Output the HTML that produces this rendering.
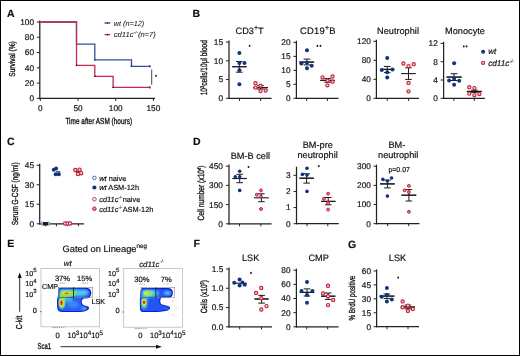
<!DOCTYPE html>
<html><head><meta charset="utf-8"><style>
html,body{margin:0;padding:0;background:#fff;}
svg{display:block;font-family:"Liberation Sans", sans-serif;}
text{text-rendering:geometricPrecision;stroke:#111;stroke-width:0.18px;}
svg{filter:blur(0.3px);}
text.ax{stroke-width:0.32px;}
text.lt{stroke-width:0.05px;}
</style></head><body>
<svg width="520" height="356" viewBox="0 0 520 356">
<rect width="520" height="356" fill="#fff"/>
<text x="7" y="16.6" font-size="10.5" text-anchor="start" font-weight="bold" font-style="normal" fill="#111" >A</text>
<line x1="39.8" y1="20.4" x2="39.8" y2="99.0" stroke="#222" stroke-width="1.25"/>
<line x1="36.8" y1="22.0" x2="39.8" y2="22.0" stroke="#222" stroke-width="1"/>
<text x="34.1" y="24.9" font-size="8.3" text-anchor="end" font-weight="normal" font-style="normal" fill="#111" >100</text>
<line x1="36.8" y1="37.28" x2="39.8" y2="37.28" stroke="#222" stroke-width="1"/>
<text x="34.1" y="40.18" font-size="8.3" text-anchor="end" font-weight="normal" font-style="normal" fill="#111" >80</text>
<line x1="36.8" y1="52.56" x2="39.8" y2="52.56" stroke="#222" stroke-width="1"/>
<text x="34.1" y="55.46" font-size="8.3" text-anchor="end" font-weight="normal" font-style="normal" fill="#111" >60</text>
<line x1="36.8" y1="67.84" x2="39.8" y2="67.84" stroke="#222" stroke-width="1"/>
<text x="34.1" y="70.74000000000001" font-size="8.3" text-anchor="end" font-weight="normal" font-style="normal" fill="#111" >40</text>
<line x1="36.8" y1="83.12" x2="39.8" y2="83.12" stroke="#222" stroke-width="1"/>
<text x="34.1" y="86.02000000000001" font-size="8.3" text-anchor="end" font-weight="normal" font-style="normal" fill="#111" >20</text>
<line x1="36.8" y1="98.4" x2="39.8" y2="98.4" stroke="#222" stroke-width="1"/>
<text x="34.1" y="101.30000000000001" font-size="8.3" text-anchor="end" font-weight="normal" font-style="normal" fill="#111" >0</text>
<line x1="39.199999999999996" y1="98.4" x2="155" y2="98.4" stroke="#222" stroke-width="1.25"/>
<line x1="40.3" y1="98.4" x2="40.3" y2="100.9" stroke="#222" stroke-width="1"/>
<line x1="78" y1="98.4" x2="78" y2="100.9" stroke="#222" stroke-width="1"/>
<line x1="115.7" y1="98.4" x2="115.7" y2="100.9" stroke="#222" stroke-width="1"/>
<line x1="153.4" y1="98.4" x2="153.4" y2="100.9" stroke="#222" stroke-width="1"/>
<text x="40.3" y="111.4" font-size="8.3" text-anchor="middle" font-weight="normal" font-style="normal" fill="#111" >0</text>
<text x="78" y="111.4" font-size="8.3" text-anchor="middle" font-weight="normal" font-style="normal" fill="#111" >50</text>
<text x="115.7" y="111.4" font-size="8.3" text-anchor="middle" font-weight="normal" font-style="normal" fill="#111" >100</text>
<text x="153.4" y="111.4" font-size="8.3" text-anchor="middle" font-weight="normal" font-style="normal" fill="#111" >150</text>
<text class="ax" x="65.4" y="124" font-size="8.7" fill="#111" textLength="66.7" lengthAdjust="spacingAndGlyphs">Time after ASM (hours)</text>
<text class="ax" transform="translate(14.5,59) rotate(-90)" x="0" y="0" font-size="8.6" text-anchor="middle" fill="#111" textLength="35.5" lengthAdjust="spacingAndGlyphs" >Survival (%)</text>
<path d="M40.3,22 H76.5 V44.1 H94.8 V59.8 H131.5 V66.3 H150" fill="none" stroke="#2f5296" stroke-width="1.3"/>
<path d="M40.3,22 H76.5 V65.4 H94.8 V76.3 H113.1 V87.4 H150" fill="none" stroke="#c42a4c" stroke-width="1.3"/>
<rect x="75.8" y="64.7" width="1.4" height="1.4" fill="#222"/>
<rect x="94.1" y="59.099999999999994" width="1.4" height="1.4" fill="#222"/>
<rect x="94.1" y="75.6" width="1.4" height="1.4" fill="#222"/>
<rect x="112.39999999999999" y="86.7" width="1.4" height="1.4" fill="#222"/>
<rect x="130.8" y="65.6" width="1.4" height="1.4" fill="#222"/>
<line x1="150" y1="65" x2="150" y2="67.6" stroke="#222" stroke-width="1"/>
<line x1="150" y1="86.1" x2="150" y2="88.7" stroke="#222" stroke-width="1"/>
<line x1="151.7" y1="69.5" x2="151.7" y2="84.8" stroke="#333" stroke-width="0.9"/>
<ellipse cx="156" cy="75.8" rx="0.9" ry="1.1" fill="#1a1a1a"/>
<line x1="104.5" y1="23" x2="110.3" y2="23" stroke="#10347c" stroke-width="1.2"/>
<line x1="107.4" y1="22" x2="107.4" y2="24" stroke="#222" stroke-width="0.7"/>
<line x1="104.5" y1="34.6" x2="110.3" y2="34.6" stroke="#c4223e" stroke-width="1.2"/>
<line x1="107.4" y1="33.6" x2="107.4" y2="35.6" stroke="#222" stroke-width="0.7"/>
<text class="lt" x="113.8" y="25.6" font-size="7.4" font-style="italic" fill="#222" textLength="30.4" lengthAdjust="spacingAndGlyphs">wt (n=12)</text>
<text class="lt" x="113.8" y="37.2" font-size="7.4" font-style="italic" fill="#222" textLength="42" lengthAdjust="spacingAndGlyphs">cd11c<tspan style="stroke-width:0.06px" font-size="4.6" dy="-3">-/-</tspan><tspan dy="3">(n=7)</tspan></text>
<text x="192.5" y="16.5" font-size="10.5" text-anchor="start" font-weight="bold" font-style="normal" fill="#111" >B</text>
<text x="249.6" y="33.7" font-size="9.2" text-anchor="middle" font-weight="normal" font-style="normal" fill="#111" >CD3<tspan font-size="7" dy="-3.5">+</tspan><tspan dy="3.5">T</tspan></text>
<text x="317.7" y="33.7" font-size="9.4" text-anchor="middle" font-weight="normal" font-style="normal" fill="#111" textLength="35.6" lengthAdjust="spacing">CD19<tspan font-size="7" dy="-3.5">+</tspan><tspan dy="3.5">B</tspan></text>
<text x="398" y="33.7" font-size="9.2" text-anchor="middle" font-weight="normal" font-style="normal" fill="#111" >Neutrophil</text>
<text x="465" y="33.7" font-size="9.2" text-anchor="middle" font-weight="normal" font-style="normal" fill="#111" >Monocyte</text>
<text class="ax" transform="translate(207.2,67.7) rotate(-90)" x="0" y="0" font-size="9.2" text-anchor="middle" fill="#111" textLength="55.3" lengthAdjust="spacingAndGlyphs" >10<tspan font-size="5.5" dy="-3">3</tspan><tspan dy="3">cells/10μl blood</tspan></text>
<line x1="229" y1="40.5" x2="229" y2="98.89999999999999" stroke="#222" stroke-width="1.25"/>
<line x1="226" y1="42.1" x2="229" y2="42.1" stroke="#222" stroke-width="1"/>
<text x="223.1" y="45.0" font-size="8.3" text-anchor="end" font-weight="normal" font-style="normal" fill="#111" >15</text>
<line x1="226" y1="60.83" x2="229" y2="60.83" stroke="#222" stroke-width="1"/>
<text x="223.1" y="63.73" font-size="8.3" text-anchor="end" font-weight="normal" font-style="normal" fill="#111" >10</text>
<line x1="226" y1="79.57" x2="229" y2="79.57" stroke="#222" stroke-width="1"/>
<text x="223.1" y="82.47" font-size="8.3" text-anchor="end" font-weight="normal" font-style="normal" fill="#111" >5</text>
<line x1="226" y1="98.3" x2="229" y2="98.3" stroke="#222" stroke-width="1"/>
<text x="223.1" y="101.2" font-size="8.3" text-anchor="end" font-weight="normal" font-style="normal" fill="#111" >0</text>
<line x1="228.4" y1="98.4" x2="271.6" y2="98.4" stroke="#222" stroke-width="1.25"/>
<line x1="239.5" y1="98.4" x2="239.5" y2="100.9" stroke="#222" stroke-width="1"/>
<line x1="260.6" y1="98.4" x2="260.6" y2="100.9" stroke="#222" stroke-width="1"/>
<line x1="239.3" y1="61.5" x2="239.3" y2="72.2" stroke="#1a1a1a" stroke-width="1"/>
<line x1="236.0" y1="61.5" x2="242.60000000000002" y2="61.5" stroke="#1a1a1a" stroke-width="1"/>
<line x1="236.0" y1="72.2" x2="242.60000000000002" y2="72.2" stroke="#1a1a1a" stroke-width="1"/>
<line x1="232.10000000000002" y1="66.7" x2="246.5" y2="66.7" stroke="#1a1a1a" stroke-width="1.1"/>
<line x1="232.3" y1="66.7" x2="246.6" y2="66.7" stroke="#1a1a1a" stroke-width="1.1"/>
<circle cx="239.4" cy="53.1" r="2.0" fill="#10347c"/>
<circle cx="239.4" cy="63" r="2.0" fill="#10347c"/>
<circle cx="244.5" cy="63" r="2.0" fill="#10347c"/>
<circle cx="239.4" cy="70.3" r="2.0" fill="#10347c"/>
<circle cx="239.4" cy="84.2" r="2.0" fill="#10347c"/>
<line x1="260.5" y1="85.6" x2="260.5" y2="89" stroke="#1a1a1a" stroke-width="1"/>
<line x1="257.2" y1="85.6" x2="263.8" y2="85.6" stroke="#1a1a1a" stroke-width="1"/>
<line x1="257.2" y1="89" x2="263.8" y2="89" stroke="#1a1a1a" stroke-width="1"/>
<line x1="253.1" y1="87.6" x2="267.9" y2="87.6" stroke="#1a1a1a" stroke-width="1.1"/>
<line x1="253" y1="87.6" x2="267.8" y2="87.6" stroke="#1a1a1a" stroke-width="1.1"/>
<circle cx="255.5" cy="83.2" r="1.6" fill="#f3d8c2" stroke="#c4223e" stroke-width="1.15"/>
<circle cx="255.5" cy="87.6" r="1.6" fill="#f3d8c2" stroke="#c4223e" stroke-width="1.15"/>
<circle cx="260.5" cy="85.7" r="1.6" fill="#f3d8c2" stroke="#c4223e" stroke-width="1.15"/>
<circle cx="260.5" cy="91.1" r="1.6" fill="#f3d8c2" stroke="#c4223e" stroke-width="1.15"/>
<circle cx="265.7" cy="90.5" r="1.6" fill="#f3d8c2" stroke="#c4223e" stroke-width="1.15"/>
<ellipse cx="249.6" cy="45.8" rx="0.9" ry="1.1" fill="#1a1a1a"/>
<line x1="296.4" y1="40.8" x2="296.4" y2="98.89999999999999" stroke="#222" stroke-width="1.25"/>
<line x1="293.4" y1="42.4" x2="296.4" y2="42.4" stroke="#222" stroke-width="1"/>
<text x="290.6" y="45.3" font-size="8.3" text-anchor="end" font-weight="normal" font-style="normal" fill="#111" >20</text>
<line x1="293.4" y1="56.38" x2="296.4" y2="56.38" stroke="#222" stroke-width="1"/>
<text x="290.6" y="59.28" font-size="8.3" text-anchor="end" font-weight="normal" font-style="normal" fill="#111" >15</text>
<line x1="293.4" y1="70.35" x2="296.4" y2="70.35" stroke="#222" stroke-width="1"/>
<text x="290.6" y="73.25" font-size="8.3" text-anchor="end" font-weight="normal" font-style="normal" fill="#111" >10</text>
<line x1="293.4" y1="84.32" x2="296.4" y2="84.32" stroke="#222" stroke-width="1"/>
<text x="290.6" y="87.22" font-size="8.3" text-anchor="end" font-weight="normal" font-style="normal" fill="#111" >5</text>
<line x1="293.4" y1="98.3" x2="296.4" y2="98.3" stroke="#222" stroke-width="1"/>
<text x="290.6" y="101.2" font-size="8.3" text-anchor="end" font-weight="normal" font-style="normal" fill="#111" >0</text>
<line x1="295.79999999999995" y1="98.4" x2="338.5" y2="98.4" stroke="#222" stroke-width="1.25"/>
<line x1="306.7" y1="98.4" x2="306.7" y2="100.9" stroke="#222" stroke-width="1"/>
<line x1="327.4" y1="98.4" x2="327.4" y2="100.9" stroke="#222" stroke-width="1"/>
<line x1="306.9" y1="59.1" x2="306.9" y2="64.9" stroke="#1a1a1a" stroke-width="1"/>
<line x1="303.59999999999997" y1="59.1" x2="310.2" y2="59.1" stroke="#1a1a1a" stroke-width="1"/>
<line x1="303.59999999999997" y1="64.9" x2="310.2" y2="64.9" stroke="#1a1a1a" stroke-width="1"/>
<line x1="299.5" y1="62.1" x2="314.29999999999995" y2="62.1" stroke="#1a1a1a" stroke-width="1.1"/>
<line x1="299.2" y1="62.1" x2="314" y2="62.1" stroke="#1a1a1a" stroke-width="1.1"/>
<circle cx="307" cy="50.2" r="2.0" fill="#10347c"/>
<circle cx="301.4" cy="63.6" r="2.0" fill="#10347c"/>
<circle cx="307" cy="62.7" r="2.0" fill="#10347c"/>
<circle cx="311.7" cy="65.7" r="2.0" fill="#10347c"/>
<circle cx="307" cy="68.3" r="2.0" fill="#10347c"/>
<line x1="327.6" y1="78.6" x2="327.6" y2="82.2" stroke="#1a1a1a" stroke-width="1"/>
<line x1="324.3" y1="78.6" x2="330.90000000000003" y2="78.6" stroke="#1a1a1a" stroke-width="1"/>
<line x1="324.3" y1="82.2" x2="330.90000000000003" y2="82.2" stroke="#1a1a1a" stroke-width="1"/>
<line x1="320.40000000000003" y1="80.4" x2="334.8" y2="80.4" stroke="#1a1a1a" stroke-width="1.1"/>
<line x1="320.3" y1="80.4" x2="334.7" y2="80.4" stroke="#1a1a1a" stroke-width="1.1"/>
<circle cx="322.5" cy="77.3" r="1.6" fill="#f3d8c2" stroke="#c4223e" stroke-width="1.15"/>
<circle cx="332.5" cy="76.5" r="1.6" fill="#f3d8c2" stroke="#c4223e" stroke-width="1.15"/>
<circle cx="327.6" cy="80.4" r="1.6" fill="#f3d8c2" stroke="#c4223e" stroke-width="1.15"/>
<circle cx="332.5" cy="81.7" r="1.6" fill="#f3d8c2" stroke="#c4223e" stroke-width="1.15"/>
<circle cx="327.4" cy="85.3" r="1.6" fill="#f3d8c2" stroke="#c4223e" stroke-width="1.15"/>
<ellipse cx="317.4" cy="45.9" rx="0.9" ry="1.1" fill="#1a1a1a"/>
<ellipse cx="320.5" cy="45.9" rx="0.9" ry="1.1" fill="#1a1a1a"/>
<line x1="376.4" y1="39.7" x2="376.4" y2="98.89999999999999" stroke="#222" stroke-width="1.25"/>
<line x1="373.4" y1="41.3" x2="376.4" y2="41.3" stroke="#222" stroke-width="1"/>
<text x="370.9" y="44.199999999999996" font-size="8.3" text-anchor="end" font-weight="normal" font-style="normal" fill="#111" >120</text>
<line x1="373.4" y1="60.3" x2="376.4" y2="60.3" stroke="#222" stroke-width="1"/>
<text x="370.9" y="63.199999999999996" font-size="8.3" text-anchor="end" font-weight="normal" font-style="normal" fill="#111" >80</text>
<line x1="373.4" y1="79.3" x2="376.4" y2="79.3" stroke="#222" stroke-width="1"/>
<text x="370.9" y="82.2" font-size="8.3" text-anchor="end" font-weight="normal" font-style="normal" fill="#111" >40</text>
<line x1="373.4" y1="98.3" x2="376.4" y2="98.3" stroke="#222" stroke-width="1"/>
<text x="370.9" y="101.2" font-size="8.3" text-anchor="end" font-weight="normal" font-style="normal" fill="#111" >0</text>
<line x1="375.79999999999995" y1="98.4" x2="419" y2="98.4" stroke="#222" stroke-width="1.25"/>
<line x1="387.2" y1="98.4" x2="387.2" y2="100.9" stroke="#222" stroke-width="1"/>
<line x1="408.6" y1="98.4" x2="408.6" y2="100.9" stroke="#222" stroke-width="1"/>
<line x1="387.2" y1="66.4" x2="387.2" y2="72.6" stroke="#1a1a1a" stroke-width="1"/>
<line x1="383.9" y1="66.4" x2="390.5" y2="66.4" stroke="#1a1a1a" stroke-width="1"/>
<line x1="383.9" y1="72.6" x2="390.5" y2="72.6" stroke="#1a1a1a" stroke-width="1"/>
<line x1="380.09999999999997" y1="69.4" x2="394.3" y2="69.4" stroke="#1a1a1a" stroke-width="1.1"/>
<line x1="380" y1="69.4" x2="394" y2="69.4" stroke="#1a1a1a" stroke-width="1.1"/>
<circle cx="387.2" cy="58.1" r="2.0" fill="#10347c"/>
<circle cx="381.8" cy="70" r="2.0" fill="#10347c"/>
<circle cx="392.5" cy="69.6" r="2.0" fill="#10347c"/>
<circle cx="387.2" cy="72.2" r="2.0" fill="#10347c"/>
<circle cx="387.2" cy="77.5" r="2.0" fill="#10347c"/>
<line x1="408.5" y1="67.8" x2="408.5" y2="79.4" stroke="#1a1a1a" stroke-width="1"/>
<line x1="405.2" y1="67.8" x2="411.8" y2="67.8" stroke="#1a1a1a" stroke-width="1"/>
<line x1="405.2" y1="79.4" x2="411.8" y2="79.4" stroke="#1a1a1a" stroke-width="1"/>
<line x1="401.2" y1="73.6" x2="415.8" y2="73.6" stroke="#1a1a1a" stroke-width="1.1"/>
<circle cx="403.4" cy="63.5" r="1.6" fill="#f3d8c2" stroke="#c4223e" stroke-width="1.15"/>
<circle cx="408.5" cy="66.1" r="1.6" fill="#f3d8c2" stroke="#c4223e" stroke-width="1.15"/>
<circle cx="413.7" cy="64.2" r="1.6" fill="#f3d8c2" stroke="#c4223e" stroke-width="1.15"/>
<circle cx="408.5" cy="82.9" r="1.6" fill="#f3d8c2" stroke="#c4223e" stroke-width="1.15"/>
<circle cx="408.5" cy="91.3" r="1.6" fill="#f3d8c2" stroke="#c4223e" stroke-width="1.15"/>
<line x1="443.6" y1="41.8" x2="443.6" y2="98.89999999999999" stroke="#222" stroke-width="1.25"/>
<line x1="440.6" y1="43.4" x2="443.6" y2="43.4" stroke="#222" stroke-width="1"/>
<text x="437.8" y="46.3" font-size="8.3" text-anchor="end" font-weight="normal" font-style="normal" fill="#111" >12</text>
<line x1="440.6" y1="61.7" x2="443.6" y2="61.7" stroke="#222" stroke-width="1"/>
<text x="437.8" y="64.60000000000001" font-size="8.3" text-anchor="end" font-weight="normal" font-style="normal" fill="#111" >8</text>
<line x1="440.6" y1="80.0" x2="443.6" y2="80.0" stroke="#222" stroke-width="1"/>
<text x="437.8" y="82.9" font-size="8.3" text-anchor="end" font-weight="normal" font-style="normal" fill="#111" >4</text>
<line x1="440.6" y1="98.3" x2="443.6" y2="98.3" stroke="#222" stroke-width="1"/>
<text x="437.8" y="101.2" font-size="8.3" text-anchor="end" font-weight="normal" font-style="normal" fill="#111" >0</text>
<line x1="443.0" y1="98.4" x2="484.9" y2="98.4" stroke="#222" stroke-width="1.25"/>
<line x1="453.9" y1="98.4" x2="453.9" y2="100.9" stroke="#222" stroke-width="1"/>
<line x1="474.3" y1="98.4" x2="474.3" y2="100.9" stroke="#222" stroke-width="1"/>
<line x1="454.1" y1="73.7" x2="454.1" y2="80.5" stroke="#1a1a1a" stroke-width="1"/>
<line x1="450.8" y1="73.7" x2="457.40000000000003" y2="73.7" stroke="#1a1a1a" stroke-width="1"/>
<line x1="450.8" y1="80.5" x2="457.40000000000003" y2="80.5" stroke="#1a1a1a" stroke-width="1"/>
<line x1="446.5" y1="77.1" x2="461.70000000000005" y2="77.1" stroke="#1a1a1a" stroke-width="1.1"/>
<line x1="446.5" y1="77.1" x2="461.7" y2="77.1" stroke="#1a1a1a" stroke-width="1.1"/>
<circle cx="454.1" cy="63.3" r="2.0" fill="#10347c"/>
<circle cx="449.1" cy="80.5" r="2.0" fill="#10347c"/>
<circle cx="454.1" cy="78.8" r="2.0" fill="#10347c"/>
<circle cx="459.2" cy="80.8" r="2.0" fill="#10347c"/>
<circle cx="454.1" cy="84.7" r="2.0" fill="#10347c"/>
<line x1="474.4" y1="90.2" x2="474.4" y2="92.6" stroke="#1a1a1a" stroke-width="1"/>
<line x1="471.09999999999997" y1="90.2" x2="477.7" y2="90.2" stroke="#1a1a1a" stroke-width="1"/>
<line x1="471.09999999999997" y1="92.6" x2="477.7" y2="92.6" stroke="#1a1a1a" stroke-width="1"/>
<line x1="466.9" y1="91.4" x2="481.9" y2="91.4" stroke="#1a1a1a" stroke-width="1.1"/>
<line x1="466.8" y1="91.4" x2="481.9" y2="91.4" stroke="#1a1a1a" stroke-width="1.1"/>
<circle cx="469.3" cy="87.2" r="1.6" fill="#f3d8c2" stroke="#c4223e" stroke-width="1.15"/>
<circle cx="474.4" cy="88.1" r="1.6" fill="#f3d8c2" stroke="#c4223e" stroke-width="1.15"/>
<circle cx="469.3" cy="93.6" r="1.6" fill="#f3d8c2" stroke="#c4223e" stroke-width="1.15"/>
<circle cx="474.4" cy="95.3" r="1.6" fill="#f3d8c2" stroke="#c4223e" stroke-width="1.15"/>
<circle cx="479.4" cy="94" r="1.6" fill="#f3d8c2" stroke="#c4223e" stroke-width="1.15"/>
<ellipse cx="463.8" cy="46.4" rx="0.9" ry="1.1" fill="#1a1a1a"/>
<ellipse cx="466.6" cy="46.4" rx="0.9" ry="1.1" fill="#1a1a1a"/>
<circle cx="483.1" cy="51.8" r="2.0" fill="#10347c"/>
<circle cx="483.1" cy="62.8" r="1.6" fill="#f3d8c2" stroke="#c4223e" stroke-width="1.15"/>
<text x="488.2" y="54.3" font-size="8.2" text-anchor="start" font-weight="normal" font-style="italic" fill="#111" >wt</text>
<text x="488.2" y="66" font-size="8.2" font-style="italic" fill="#111">cd11c<tspan style="stroke-width:0.06px" font-size="5" dy="-3.2">-/-</tspan></text>
<text x="7" y="145.2" font-size="10.5" text-anchor="start" font-weight="bold" font-style="normal" fill="#111" >C</text>
<line x1="39.7" y1="163.7" x2="39.7" y2="224.4" stroke="#222" stroke-width="1.25"/>
<line x1="36.7" y1="165.3" x2="39.7" y2="165.3" stroke="#222" stroke-width="1"/>
<text x="34.1" y="168.20000000000002" font-size="8.3" text-anchor="end" font-weight="normal" font-style="normal" fill="#111" >45</text>
<line x1="36.7" y1="184.8" x2="39.7" y2="184.8" stroke="#222" stroke-width="1"/>
<text x="34.1" y="187.70000000000002" font-size="8.3" text-anchor="end" font-weight="normal" font-style="normal" fill="#111" >30</text>
<line x1="36.7" y1="204.3" x2="39.7" y2="204.3" stroke="#222" stroke-width="1"/>
<text x="34.1" y="207.20000000000002" font-size="8.3" text-anchor="end" font-weight="normal" font-style="normal" fill="#111" >15</text>
<line x1="36.7" y1="223.8" x2="39.7" y2="223.8" stroke="#222" stroke-width="1"/>
<text x="34.1" y="226.70000000000002" font-size="8.3" text-anchor="end" font-weight="normal" font-style="normal" fill="#111" >0</text>
<line x1="39.1" y1="223.8" x2="84" y2="223.8" stroke="#222" stroke-width="1.25"/>
<line x1="45.3" y1="223.8" x2="45.3" y2="226.3" stroke="#222" stroke-width="1"/>
<line x1="56.4" y1="223.8" x2="56.4" y2="226.3" stroke="#222" stroke-width="1"/>
<line x1="67.5" y1="223.8" x2="67.5" y2="226.3" stroke="#222" stroke-width="1"/>
<line x1="78.4" y1="223.8" x2="78.4" y2="226.3" stroke="#222" stroke-width="1"/>
<text class="ax" transform="translate(18.3,193.8) rotate(-90)" x="0" y="0" font-size="8.8" text-anchor="middle" fill="#111" textLength="63" lengthAdjust="spacingAndGlyphs" >Serum G-CSF (ng/ml)</text>
<circle cx="42.6" cy="223.6" r="1.6" fill="#c8d4ec" stroke="#5a7ac0" stroke-width="0.9"/>
<circle cx="48.4" cy="223.6" r="1.6" fill="#c8d4ec" stroke="#5a7ac0" stroke-width="0.9"/>
<rect x="42.9" y="222.1" width="5.3" height="3.3" rx="1.2" fill="#141c30"/>
<circle cx="53.8" cy="169.7" r="2.0" fill="#10347c"/>
<circle cx="56.1" cy="168.5" r="2.0" fill="#10347c"/>
<circle cx="55.7" cy="174.3" r="2.0" fill="#10347c"/>
<circle cx="58.8" cy="174.3" r="2.0" fill="#10347c"/>
<line x1="56.1" y1="171.8" x2="60.3" y2="171.8" stroke="#222" stroke-width="1.1"/>
<circle cx="65.1" cy="223.5" r="1.6" fill="#fff" stroke="#c4223e" stroke-width="1.15"/>
<circle cx="67.6" cy="223.5" r="1.6" fill="#fff" stroke="#c4223e" stroke-width="1.15"/>
<circle cx="70.1" cy="223.5" r="1.6" fill="#fff" stroke="#c4223e" stroke-width="1.15"/>
<circle cx="75.3" cy="170.1" r="1.7" fill="#f2d0b8" stroke="#c4223e" stroke-width="1.15"/>
<circle cx="79.5" cy="169.7" r="1.7" fill="#f2d0b8" stroke="#c4223e" stroke-width="1.15"/>
<circle cx="78" cy="173.9" r="1.7" fill="#f2d0b8" stroke="#c4223e" stroke-width="1.15"/>
<circle cx="81.2" cy="173.2" r="1.7" fill="#f2d0b8" stroke="#c4223e" stroke-width="1.15"/>
<line x1="76" y1="171.8" x2="78.8" y2="171.8" stroke="#222" stroke-width="1.1"/>
<circle cx="94.4" cy="177.9" r="1.8" fill="#fff" stroke="#3a5a9a" stroke-width="0.9"/>
<circle cx="94.4" cy="187.5" r="2.1" fill="#10347c"/>
<circle cx="94.4" cy="199.2" r="1.8" fill="#fff" stroke="#c4223e" stroke-width="0.9"/>
<circle cx="94.4" cy="208.8" r="1.8" fill="#e08090" stroke="#c4223e" stroke-width="1"/>
<text x="99.2" y="180.6" font-size="7.4" fill="#111"><tspan font-style="italic">wt</tspan> naive</text>
<text x="99.2" y="190.2" font-size="7.4" fill="#111"><tspan font-style="italic">wt</tspan> ASM-12h</text>
<text x="99.2" y="201.9" font-size="7.4" fill="#111"><tspan font-style="italic">cd11c</tspan><tspan style="stroke-width:0.06px" font-size="4.5" dy="-3">-/-</tspan><tspan dy="3">naive</tspan></text>
<text x="99.2" y="211.5" font-size="7.4" fill="#111"><tspan font-style="italic">cd11c</tspan><tspan style="stroke-width:0.06px" font-size="4.5" dy="-3">-/-</tspan><tspan dy="3">ASM-12h</tspan></text>
<text x="193" y="145.2" font-size="10.5" text-anchor="start" font-weight="bold" font-style="normal" fill="#111" >D</text>
<text class="ax" transform="translate(203.8,193) rotate(-90)" x="0" y="0" font-size="9.0" text-anchor="middle" fill="#111" textLength="55" lengthAdjust="spacingAndGlyphs" >Cell number (x10<tspan font-size="5.5" dy="-3">4</tspan><tspan dy="3">)</tspan></text>
<text x="250.4" y="159.2" font-size="9.2" text-anchor="middle" font-weight="normal" font-style="normal" fill="#111" >BM-B cell</text>
<line x1="229" y1="164.6" x2="229" y2="224.4" stroke="#222" stroke-width="1.25"/>
<line x1="226" y1="166.2" x2="229" y2="166.2" stroke="#222" stroke-width="1"/>
<text x="222.9" y="169.1" font-size="8.3" text-anchor="end" font-weight="normal" font-style="normal" fill="#111" >450</text>
<line x1="226" y1="185.4" x2="229" y2="185.4" stroke="#222" stroke-width="1"/>
<text x="222.9" y="188.3" font-size="8.3" text-anchor="end" font-weight="normal" font-style="normal" fill="#111" >300</text>
<line x1="226" y1="204.6" x2="229" y2="204.6" stroke="#222" stroke-width="1"/>
<text x="222.9" y="207.5" font-size="8.3" text-anchor="end" font-weight="normal" font-style="normal" fill="#111" >150</text>
<line x1="226" y1="223.8" x2="229" y2="223.8" stroke="#222" stroke-width="1"/>
<text x="222.9" y="226.70000000000002" font-size="8.3" text-anchor="end" font-weight="normal" font-style="normal" fill="#111" >0</text>
<line x1="228.4" y1="223.8" x2="271.6" y2="223.8" stroke="#222" stroke-width="1.25"/>
<line x1="239.5" y1="223.8" x2="239.5" y2="226.3" stroke="#222" stroke-width="1"/>
<line x1="260.9" y1="223.8" x2="260.9" y2="226.3" stroke="#222" stroke-width="1"/>
<line x1="239.7" y1="174.3" x2="239.7" y2="182.7" stroke="#1a1a1a" stroke-width="1"/>
<line x1="236.39999999999998" y1="174.3" x2="243.0" y2="174.3" stroke="#1a1a1a" stroke-width="1"/>
<line x1="236.39999999999998" y1="182.7" x2="243.0" y2="182.7" stroke="#1a1a1a" stroke-width="1"/>
<line x1="232.6" y1="178.5" x2="246.79999999999998" y2="178.5" stroke="#1a1a1a" stroke-width="1.1"/>
<line x1="232.5" y1="178.5" x2="246.7" y2="178.5" stroke="#1a1a1a" stroke-width="1.1"/>
<circle cx="239.7" cy="171.3" r="1.8" fill="#10347c"/>
<circle cx="235.3" cy="176.7" r="1.8" fill="#10347c"/>
<circle cx="239.7" cy="176.7" r="1.8" fill="#10347c"/>
<circle cx="239.7" cy="190.4" r="1.8" fill="#10347c"/>
<line x1="261.4" y1="193.8" x2="261.4" y2="201.7" stroke="#1a1a1a" stroke-width="1"/>
<line x1="258.09999999999997" y1="193.8" x2="264.7" y2="193.8" stroke="#1a1a1a" stroke-width="1"/>
<line x1="258.09999999999997" y1="201.7" x2="264.7" y2="201.7" stroke="#1a1a1a" stroke-width="1"/>
<line x1="253.99999999999997" y1="197.8" x2="268.79999999999995" y2="197.8" stroke="#1a1a1a" stroke-width="1.1"/>
<circle cx="261" cy="190.4" r="1.45" fill="#e27a90" stroke="#c4223e" stroke-width="1"/>
<circle cx="256.8" cy="194.7" r="1.45" fill="#e27a90" stroke="#c4223e" stroke-width="1"/>
<circle cx="261" cy="196.6" r="1.45" fill="#e27a90" stroke="#c4223e" stroke-width="1"/>
<circle cx="261" cy="209" r="1.45" fill="#e27a90" stroke="#c4223e" stroke-width="1"/>
<ellipse cx="248.5" cy="167.1" rx="0.9" ry="1.1" fill="#1a1a1a"/>
<text x="317.8" y="148.2" font-size="9.2" text-anchor="middle" font-weight="normal" font-style="normal" fill="#111" >BM-pre</text>
<text x="317.6" y="157.6" font-size="9.2" text-anchor="middle" font-weight="normal" font-style="normal" fill="#111" >neutrophil</text>
<line x1="296.5" y1="166.7" x2="296.5" y2="224.29999999999998" stroke="#222" stroke-width="1.25"/>
<line x1="293.5" y1="175.3" x2="296.5" y2="175.3" stroke="#222" stroke-width="1"/>
<text x="290.7" y="178.20000000000002" font-size="8.3" text-anchor="end" font-weight="normal" font-style="normal" fill="#111" >3</text>
<line x1="293.5" y1="191.43" x2="296.5" y2="191.43" stroke="#222" stroke-width="1"/>
<text x="290.7" y="194.33" font-size="8.3" text-anchor="end" font-weight="normal" font-style="normal" fill="#111" >2</text>
<line x1="293.5" y1="207.57" x2="296.5" y2="207.57" stroke="#222" stroke-width="1"/>
<text x="290.7" y="210.47" font-size="8.3" text-anchor="end" font-weight="normal" font-style="normal" fill="#111" >1</text>
<line x1="293.5" y1="223.7" x2="296.5" y2="223.7" stroke="#222" stroke-width="1"/>
<text x="290.7" y="226.6" font-size="8.3" text-anchor="end" font-weight="normal" font-style="normal" fill="#111" >0</text>
<line x1="295.9" y1="223.7" x2="338.8" y2="223.7" stroke="#222" stroke-width="1.25"/>
<line x1="307" y1="223.7" x2="307" y2="226.2" stroke="#222" stroke-width="1"/>
<line x1="327.8" y1="223.7" x2="327.8" y2="226.2" stroke="#222" stroke-width="1"/>
<line x1="306.6" y1="173.8" x2="306.6" y2="183.1" stroke="#1a1a1a" stroke-width="1"/>
<line x1="303.3" y1="173.8" x2="309.90000000000003" y2="173.8" stroke="#1a1a1a" stroke-width="1"/>
<line x1="303.3" y1="183.1" x2="309.90000000000003" y2="183.1" stroke="#1a1a1a" stroke-width="1"/>
<line x1="299.40000000000003" y1="178.2" x2="313.8" y2="178.2" stroke="#1a1a1a" stroke-width="1.1"/>
<line x1="299.4" y1="178.2" x2="313.9" y2="178.2" stroke="#1a1a1a" stroke-width="1.1"/>
<circle cx="307" cy="168.3" r="1.8" fill="#10347c"/>
<circle cx="302.4" cy="174.4" r="1.8" fill="#10347c"/>
<circle cx="307" cy="175" r="1.8" fill="#10347c"/>
<circle cx="307" cy="191.4" r="1.8" fill="#10347c"/>
<line x1="328.2" y1="197.5" x2="328.2" y2="204.8" stroke="#1a1a1a" stroke-width="1"/>
<line x1="324.9" y1="197.5" x2="331.5" y2="197.5" stroke="#1a1a1a" stroke-width="1"/>
<line x1="324.9" y1="204.8" x2="331.5" y2="204.8" stroke="#1a1a1a" stroke-width="1"/>
<line x1="321.0" y1="201.4" x2="335.4" y2="201.4" stroke="#1a1a1a" stroke-width="1.1"/>
<line x1="321" y1="201.4" x2="335.5" y2="201.4" stroke="#1a1a1a" stroke-width="1.1"/>
<circle cx="328.1" cy="193.7" r="1.45" fill="#e27a90" stroke="#c4223e" stroke-width="1"/>
<circle cx="323.9" cy="198.8" r="1.45" fill="#e27a90" stroke="#c4223e" stroke-width="1"/>
<circle cx="328.1" cy="203" r="1.45" fill="#e27a90" stroke="#c4223e" stroke-width="1"/>
<circle cx="328.1" cy="209.6" r="1.45" fill="#e27a90" stroke="#c4223e" stroke-width="1"/>
<ellipse cx="318.8" cy="166.1" rx="0.9" ry="1.1" fill="#1a1a1a"/>
<text x="396.8" y="148.2" font-size="9.2" text-anchor="middle" font-weight="normal" font-style="normal" fill="#111" >BM-</text>
<text x="398.2" y="157.6" font-size="9.2" text-anchor="middle" font-weight="normal" font-style="normal" fill="#111" >neutrophil</text>
<line x1="376.5" y1="164.6" x2="376.5" y2="224.29999999999998" stroke="#222" stroke-width="1.25"/>
<line x1="373.5" y1="166.2" x2="376.5" y2="166.2" stroke="#222" stroke-width="1"/>
<text x="370.9" y="169.1" font-size="8.3" text-anchor="end" font-weight="normal" font-style="normal" fill="#111" >300</text>
<line x1="373.5" y1="185.37" x2="376.5" y2="185.37" stroke="#222" stroke-width="1"/>
<text x="370.9" y="188.27" font-size="8.3" text-anchor="end" font-weight="normal" font-style="normal" fill="#111" >200</text>
<line x1="373.5" y1="204.53" x2="376.5" y2="204.53" stroke="#222" stroke-width="1"/>
<text x="370.9" y="207.43" font-size="8.3" text-anchor="end" font-weight="normal" font-style="normal" fill="#111" >100</text>
<line x1="373.5" y1="223.7" x2="376.5" y2="223.7" stroke="#222" stroke-width="1"/>
<text x="370.9" y="226.6" font-size="8.3" text-anchor="end" font-weight="normal" font-style="normal" fill="#111" >0</text>
<line x1="375.9" y1="223.7" x2="419.5" y2="223.7" stroke="#222" stroke-width="1.25"/>
<line x1="387.6" y1="223.7" x2="387.6" y2="226.2" stroke="#222" stroke-width="1"/>
<line x1="408.7" y1="223.7" x2="408.7" y2="226.2" stroke="#222" stroke-width="1"/>
<text x="399.2" y="171.5" font-size="7" text-anchor="middle" font-weight="normal" font-style="normal" fill="#111" >p=0.07</text>
<line x1="387.4" y1="180.1" x2="387.4" y2="187.9" stroke="#1a1a1a" stroke-width="1"/>
<line x1="384.09999999999997" y1="180.1" x2="390.7" y2="180.1" stroke="#1a1a1a" stroke-width="1"/>
<line x1="384.09999999999997" y1="187.9" x2="390.7" y2="187.9" stroke="#1a1a1a" stroke-width="1"/>
<line x1="380.09999999999997" y1="183.9" x2="394.7" y2="183.9" stroke="#1a1a1a" stroke-width="1.1"/>
<line x1="380" y1="183.9" x2="394.7" y2="183.9" stroke="#1a1a1a" stroke-width="1.1"/>
<circle cx="382.9" cy="179.4" r="1.8" fill="#10347c"/>
<circle cx="391.6" cy="178" r="1.8" fill="#10347c"/>
<circle cx="387.4" cy="181" r="1.8" fill="#10347c"/>
<circle cx="387.4" cy="196.1" r="1.8" fill="#10347c"/>
<line x1="408.9" y1="189.6" x2="408.9" y2="201" stroke="#1a1a1a" stroke-width="1"/>
<line x1="405.59999999999997" y1="189.6" x2="412.2" y2="189.6" stroke="#1a1a1a" stroke-width="1"/>
<line x1="405.59999999999997" y1="201" x2="412.2" y2="201" stroke="#1a1a1a" stroke-width="1"/>
<line x1="401.54999999999995" y1="195.2" x2="416.25" y2="195.2" stroke="#1a1a1a" stroke-width="1.1"/>
<line x1="401.5" y1="195.2" x2="416.2" y2="195.2" stroke="#1a1a1a" stroke-width="1.1"/>
<circle cx="408.9" cy="185.9" r="1.45" fill="#e27a90" stroke="#c4223e" stroke-width="1"/>
<circle cx="404.6" cy="190.3" r="1.45" fill="#e27a90" stroke="#c4223e" stroke-width="1"/>
<circle cx="408.9" cy="192.1" r="1.45" fill="#e27a90" stroke="#c4223e" stroke-width="1"/>
<circle cx="408.9" cy="211.8" r="1.45" fill="#e27a90" stroke="#c4223e" stroke-width="1"/>
<text x="193.5" y="247" font-size="10.5" text-anchor="start" font-weight="bold" font-style="normal" fill="#111" >F</text>
<text x="250.7" y="260.9" font-size="9.2" text-anchor="middle" font-weight="normal" font-style="normal" fill="#111" >LSK</text>
<text class="ax" transform="translate(206.5,296.7) rotate(-90)" x="0" y="0" font-size="9.0" text-anchor="middle" fill="#111" textLength="33.3" lengthAdjust="spacingAndGlyphs" >Cells (x10<tspan font-size="5.5" dy="-3">5</tspan><tspan dy="3">)</tspan></text>
<line x1="229" y1="267.4" x2="229" y2="327.40000000000003" stroke="#222" stroke-width="1.25"/>
<line x1="226" y1="269.0" x2="229" y2="269.0" stroke="#222" stroke-width="1"/>
<text x="223.3" y="271.9" font-size="8.3" text-anchor="end" font-weight="normal" font-style="normal" fill="#111" >1.5</text>
<line x1="226" y1="288.27" x2="229" y2="288.27" stroke="#222" stroke-width="1"/>
<text x="223.3" y="291.16999999999996" font-size="8.3" text-anchor="end" font-weight="normal" font-style="normal" fill="#111" >1.0</text>
<line x1="226" y1="307.53" x2="229" y2="307.53" stroke="#222" stroke-width="1"/>
<text x="223.3" y="310.42999999999995" font-size="8.3" text-anchor="end" font-weight="normal" font-style="normal" fill="#111" >0.5</text>
<line x1="226" y1="326.8" x2="229" y2="326.8" stroke="#222" stroke-width="1"/>
<text x="223.3" y="329.7" font-size="8.3" text-anchor="end" font-weight="normal" font-style="normal" fill="#111" >0.0</text>
<line x1="228.4" y1="326.9" x2="272" y2="326.9" stroke="#222" stroke-width="1.25"/>
<line x1="239.7" y1="326.9" x2="239.7" y2="329.4" stroke="#222" stroke-width="1"/>
<line x1="261.5" y1="326.9" x2="261.5" y2="329.4" stroke="#222" stroke-width="1"/>
<line x1="235.1" y1="283.2" x2="246.7" y2="283.2" stroke="#1a1a1a" stroke-width="1.1"/>
<circle cx="239.6" cy="279.4" r="2.0" fill="#10347c"/>
<circle cx="234.2" cy="282.8" r="2.0" fill="#10347c"/>
<circle cx="242.5" cy="282.5" r="2.0" fill="#10347c"/>
<circle cx="239.6" cy="285.4" r="2.0" fill="#10347c"/>
<circle cx="244.8" cy="284.8" r="2.0" fill="#10347c"/>
<line x1="261.6" y1="295.4" x2="261.6" y2="303.1" stroke="#1a1a1a" stroke-width="1"/>
<line x1="258.3" y1="295.4" x2="264.90000000000003" y2="295.4" stroke="#1a1a1a" stroke-width="1"/>
<line x1="258.3" y1="303.1" x2="264.90000000000003" y2="303.1" stroke="#1a1a1a" stroke-width="1"/>
<line x1="254.50000000000003" y1="299" x2="268.70000000000005" y2="299" stroke="#1a1a1a" stroke-width="1.1"/>
<line x1="254.5" y1="299" x2="268.6" y2="299" stroke="#1a1a1a" stroke-width="1.1"/>
<circle cx="261.3" cy="288" r="1.6" fill="#f3d8c2" stroke="#c4223e" stroke-width="1.15"/>
<circle cx="256.1" cy="292.9" r="1.6" fill="#f3d8c2" stroke="#c4223e" stroke-width="1.15"/>
<circle cx="261.3" cy="298.3" r="1.6" fill="#f3d8c2" stroke="#c4223e" stroke-width="1.15"/>
<circle cx="266.5" cy="306.1" r="1.6" fill="#f3d8c2" stroke="#c4223e" stroke-width="1.15"/>
<circle cx="261.3" cy="309.5" r="1.6" fill="#f3d8c2" stroke="#c4223e" stroke-width="1.15"/>
<ellipse cx="251" cy="272.9" rx="0.9" ry="1.1" fill="#1a1a1a"/>
<text x="318.7" y="261.1" font-size="9.2" text-anchor="middle" font-weight="normal" font-style="normal" fill="#111" >CMP</text>
<line x1="296.4" y1="268.6" x2="296.4" y2="327.40000000000003" stroke="#222" stroke-width="1.25"/>
<line x1="293.4" y1="270.2" x2="296.4" y2="270.2" stroke="#222" stroke-width="1"/>
<text x="290.6" y="273.09999999999997" font-size="8.3" text-anchor="end" font-weight="normal" font-style="normal" fill="#111" >80</text>
<line x1="293.4" y1="284.35" x2="296.4" y2="284.35" stroke="#222" stroke-width="1"/>
<text x="290.6" y="287.25" font-size="8.3" text-anchor="end" font-weight="normal" font-style="normal" fill="#111" >60</text>
<line x1="293.4" y1="298.5" x2="296.4" y2="298.5" stroke="#222" stroke-width="1"/>
<text x="290.6" y="301.4" font-size="8.3" text-anchor="end" font-weight="normal" font-style="normal" fill="#111" >40</text>
<line x1="293.4" y1="312.65" x2="296.4" y2="312.65" stroke="#222" stroke-width="1"/>
<text x="290.6" y="315.54999999999995" font-size="8.3" text-anchor="end" font-weight="normal" font-style="normal" fill="#111" >20</text>
<line x1="293.4" y1="326.8" x2="296.4" y2="326.8" stroke="#222" stroke-width="1"/>
<text x="290.6" y="329.7" font-size="8.3" text-anchor="end" font-weight="normal" font-style="normal" fill="#111" >0</text>
<line x1="295.79999999999995" y1="326.8" x2="338.5" y2="326.8" stroke="#222" stroke-width="1.25"/>
<line x1="306.7" y1="326.8" x2="306.7" y2="329.3" stroke="#222" stroke-width="1"/>
<line x1="327.7" y1="326.8" x2="327.7" y2="329.3" stroke="#222" stroke-width="1"/>
<line x1="307" y1="288.9" x2="307" y2="296" stroke="#1a1a1a" stroke-width="1"/>
<line x1="303.7" y1="288.9" x2="310.3" y2="288.9" stroke="#1a1a1a" stroke-width="1"/>
<line x1="303.7" y1="296" x2="310.3" y2="296" stroke="#1a1a1a" stroke-width="1"/>
<line x1="299.8" y1="292.4" x2="314.2" y2="292.4" stroke="#1a1a1a" stroke-width="1.1"/>
<line x1="299.8" y1="292.4" x2="314.1" y2="292.4" stroke="#1a1a1a" stroke-width="1.1"/>
<circle cx="307" cy="281.9" r="2.0" fill="#10347c"/>
<circle cx="301.5" cy="291.1" r="2.0" fill="#10347c"/>
<circle cx="312.4" cy="291.1" r="2.0" fill="#10347c"/>
<circle cx="307" cy="295.1" r="2.0" fill="#10347c"/>
<circle cx="307" cy="302.7" r="2.0" fill="#10347c"/>
<line x1="328.2" y1="293" x2="328.2" y2="299.4" stroke="#1a1a1a" stroke-width="1"/>
<line x1="324.9" y1="293" x2="331.5" y2="293" stroke="#1a1a1a" stroke-width="1"/>
<line x1="324.9" y1="299.4" x2="331.5" y2="299.4" stroke="#1a1a1a" stroke-width="1"/>
<line x1="321.0" y1="296.2" x2="335.4" y2="296.2" stroke="#1a1a1a" stroke-width="1.1"/>
<line x1="321" y1="296.2" x2="335.3" y2="296.2" stroke="#1a1a1a" stroke-width="1.1"/>
<circle cx="328" cy="285.7" r="1.6" fill="#f3d8c2" stroke="#c4223e" stroke-width="1.15"/>
<circle cx="323" cy="293.4" r="1.6" fill="#f3d8c2" stroke="#c4223e" stroke-width="1.15"/>
<circle cx="328" cy="296.2" r="1.6" fill="#f3d8c2" stroke="#c4223e" stroke-width="1.15"/>
<circle cx="333.2" cy="300" r="1.6" fill="#f3d8c2" stroke="#c4223e" stroke-width="1.15"/>
<circle cx="328" cy="305.1" r="1.6" fill="#f3d8c2" stroke="#c4223e" stroke-width="1.15"/>
<text x="348" y="247.6" font-size="10.5" text-anchor="start" font-weight="bold" font-style="normal" fill="#111" >G</text>
<text x="397.5" y="260.9" font-size="9.2" text-anchor="middle" font-weight="normal" font-style="normal" fill="#111" >LSK</text>
<text class="ax" transform="translate(355.2,298.1) rotate(-90)" x="0" y="0" font-size="8.8" text-anchor="middle" fill="#111" textLength="44.8" lengthAdjust="spacingAndGlyphs" >% BrdU positive</text>
<line x1="376.6" y1="269.4" x2="376.6" y2="327.3" stroke="#222" stroke-width="1.25"/>
<line x1="373.6" y1="271.0" x2="376.6" y2="271.0" stroke="#222" stroke-width="1"/>
<text x="371.0" y="273.9" font-size="8.3" text-anchor="end" font-weight="normal" font-style="normal" fill="#111" >60</text>
<line x1="373.6" y1="284.93" x2="376.6" y2="284.93" stroke="#222" stroke-width="1"/>
<text x="371.0" y="287.83" font-size="8.3" text-anchor="end" font-weight="normal" font-style="normal" fill="#111" >45</text>
<line x1="373.6" y1="298.85" x2="376.6" y2="298.85" stroke="#222" stroke-width="1"/>
<text x="371.0" y="301.75" font-size="8.3" text-anchor="end" font-weight="normal" font-style="normal" fill="#111" >30</text>
<line x1="373.6" y1="312.77" x2="376.6" y2="312.77" stroke="#222" stroke-width="1"/>
<text x="371.0" y="315.66999999999996" font-size="8.3" text-anchor="end" font-weight="normal" font-style="normal" fill="#111" >15</text>
<line x1="373.6" y1="326.7" x2="376.6" y2="326.7" stroke="#222" stroke-width="1"/>
<text x="371.0" y="329.59999999999997" font-size="8.3" text-anchor="end" font-weight="normal" font-style="normal" fill="#111" >0</text>
<line x1="376.0" y1="326.7" x2="419" y2="326.7" stroke="#222" stroke-width="1.25"/>
<line x1="386.9" y1="326.7" x2="386.9" y2="329.2" stroke="#222" stroke-width="1"/>
<line x1="408" y1="326.7" x2="408" y2="329.2" stroke="#222" stroke-width="1"/>
<line x1="386.9" y1="294" x2="386.9" y2="298.6" stroke="#1a1a1a" stroke-width="1"/>
<line x1="383.59999999999997" y1="294" x2="390.2" y2="294" stroke="#1a1a1a" stroke-width="1"/>
<line x1="383.59999999999997" y1="298.6" x2="390.2" y2="298.6" stroke="#1a1a1a" stroke-width="1"/>
<line x1="379.5" y1="296.1" x2="394.29999999999995" y2="296.1" stroke="#1a1a1a" stroke-width="1.1"/>
<line x1="379.7" y1="296.1" x2="394.5" y2="296.1" stroke="#1a1a1a" stroke-width="1.1"/>
<circle cx="386.9" cy="288.1" r="2.0" fill="#10347c"/>
<circle cx="381.6" cy="296.7" r="2.0" fill="#10347c"/>
<circle cx="386.9" cy="294.9" r="2.0" fill="#10347c"/>
<circle cx="391.8" cy="299.4" r="2.0" fill="#10347c"/>
<circle cx="386.9" cy="301.4" r="2.0" fill="#10347c"/>
<line x1="407.9" y1="305.1" x2="407.9" y2="308.8" stroke="#1a1a1a" stroke-width="1"/>
<line x1="404.59999999999997" y1="305.1" x2="411.2" y2="305.1" stroke="#1a1a1a" stroke-width="1"/>
<line x1="404.59999999999997" y1="308.8" x2="411.2" y2="308.8" stroke="#1a1a1a" stroke-width="1"/>
<line x1="400.79999999999995" y1="307" x2="415.0" y2="307" stroke="#1a1a1a" stroke-width="1.1"/>
<line x1="400.7" y1="307" x2="414.9" y2="307" stroke="#1a1a1a" stroke-width="1.1"/>
<circle cx="402.6" cy="301.4" r="1.6" fill="#f3d8c2" stroke="#c4223e" stroke-width="1.15"/>
<circle cx="402.6" cy="307.2" r="1.6" fill="#f3d8c2" stroke="#c4223e" stroke-width="1.15"/>
<circle cx="407.9" cy="305.6" r="1.6" fill="#f3d8c2" stroke="#c4223e" stroke-width="1.15"/>
<circle cx="412.8" cy="309.1" r="1.6" fill="#f3d8c2" stroke="#c4223e" stroke-width="1.15"/>
<circle cx="407.9" cy="310.9" r="1.6" fill="#f3d8c2" stroke="#c4223e" stroke-width="1.15"/>
<ellipse cx="398.2" cy="277.6" rx="0.9" ry="1.1" fill="#1a1a1a"/>
<text x="7.3" y="246.7" font-size="10.5" text-anchor="start" font-weight="bold" font-style="normal" fill="#111" >E</text>
<text x="62.6" y="251.5" font-size="9.3" fill="#111">Gated on Lineage<tspan font-size="6.4" dy="-3.6">neg</tspan></text>
<rect x="41" y="268.4" width="58.6" height="58.4" fill="none" stroke="#bbb" stroke-width="0.8"/>
<rect x="123.7" y="268.4" width="58.8" height="58.8" fill="none" stroke="#bbb" stroke-width="0.8"/>
<text x="67.7" y="266.2" font-size="7.8" text-anchor="middle" font-weight="normal" font-style="italic" fill="#111" >wt</text>
<text x="139.2" y="266.5" font-size="7.8" font-style="italic" fill="#111">cd11c<tspan style="stroke-width:0.06px" font-size="5.2" dy="-3.2">-/-</tspan></text>
<text x="25.3" y="275.7" font-size="7.2" fill="#111">10<tspan font-size="6" dy="-3.3">5</tspan></text>
<text x="25.3" y="285.8" font-size="7.2" fill="#111">10<tspan font-size="6" dy="-3.3">4</tspan></text>
<text x="25.3" y="296.6" font-size="7.2" fill="#111">10<tspan font-size="6" dy="-3.3">3</tspan></text>
<text x="32.7" y="313.4" font-size="7.4" text-anchor="start" font-weight="normal" font-style="normal" fill="#111" >0</text>
<text x="108" y="275.7" font-size="7.2" fill="#111">10<tspan font-size="6" dy="-3.3">5</tspan></text>
<text x="108" y="285.8" font-size="7.2" fill="#111">10<tspan font-size="6" dy="-3.3">4</tspan></text>
<text x="108" y="296.6" font-size="7.2" fill="#111">10<tspan font-size="6" dy="-3.3">3</tspan></text>
<text x="115.4" y="313.4" font-size="7.4" text-anchor="start" font-weight="normal" font-style="normal" fill="#111" >0</text>
<text x="57.5" y="338" font-size="7.6" text-anchor="middle" font-weight="normal" font-style="normal" fill="#111" >0</text>
<text x="67.5" y="338" font-size="7.8" fill="#111" textLength="35.5" lengthAdjust="spacingAndGlyphs">10<tspan font-size="6.5" dy="-3.5">3</tspan><tspan dy="3.5">10</tspan><tspan font-size="6.5" dy="-3.5">4</tspan><tspan dy="3.5">10</tspan><tspan font-size="6.5" dy="-3.5">5</tspan></text>
<text x="140.4" y="338" font-size="7.6" text-anchor="middle" font-weight="normal" font-style="normal" fill="#111" >0</text>
<text x="150" y="338" font-size="7.8" fill="#111" textLength="35.5" lengthAdjust="spacingAndGlyphs">10<tspan font-size="6.5" dy="-3.5">3</tspan><tspan dy="3.5">10</tspan><tspan font-size="6.5" dy="-3.5">4</tspan><tspan dy="3.5">10</tspan><tspan font-size="6.5" dy="-3.5">5</tspan></text>
<text x="62.5" y="280.6" font-size="7.6" text-anchor="middle" font-weight="normal" font-style="normal" fill="#111" >37%</text>
<text x="84.7" y="280.6" font-size="7.6" text-anchor="middle" font-weight="normal" font-style="normal" fill="#111" >15%</text>
<text x="141.9" y="281.8" font-size="7.6" text-anchor="middle" font-weight="normal" font-style="normal" fill="#111" >30%</text>
<text x="166.3" y="281.8" font-size="7.6" text-anchor="middle" font-weight="normal" font-style="normal" fill="#111" >7%</text>
<text x="42" y="288.9" font-size="7.2" text-anchor="start" font-weight="normal" font-style="normal" fill="#111" >CMP</text>
<text x="62.6" y="284.3" font-size="2.6" fill="#999" text-anchor="middle" style="stroke:none">3151</text>
<text x="84.8" y="284.3" font-size="2.6" fill="#999" text-anchor="middle" style="stroke:none">1548</text>
<text x="141.9" y="285.2" font-size="2.6" fill="#999" text-anchor="middle" style="stroke:none">36.01</text>
<text x="166.3" y="285.2" font-size="2.6" fill="#999" text-anchor="middle" style="stroke:none">7.02</text>
<text x="91.5" y="303.5" font-size="7.2" text-anchor="start" font-weight="normal" font-style="normal" fill="#111" >LSK</text>
<line x1="19.7" y1="276" x2="19.7" y2="311.8" stroke="#111" stroke-width="0.9"/>
<path d="M19.7,272.5 L17.7,278 L21.7,278 Z" fill="#111"/>
<line x1="60.6" y1="346.7" x2="158" y2="346.7" stroke="#111" stroke-width="0.9"/>
<path d="M161.8,346.7 L156,344.7 L156,348.7 Z" fill="#111"/>
<text class="ax" transform="translate(21.8,322.4) rotate(-90)" x="0" y="0" font-size="8.6" text-anchor="middle" fill="#111" textLength="13.6" lengthAdjust="spacingAndGlyphs" >C-kit</text>
<text class="ax" x="37.5" y="348.7" font-size="8.6" fill="#111" textLength="13.5" lengthAdjust="spacingAndGlyphs">Sca1</text>
<defs>
<filter id="b3" x="-30%" y="-30%" width="160%" height="160%"><feGaussianBlur stdDeviation="0.3"/></filter>
<filter id="b6" x="-30%" y="-30%" width="160%" height="160%"><feGaussianBlur stdDeviation="0.6"/></filter>
<filter id="b9" x="-30%" y="-30%" width="160%" height="160%"><feGaussianBlur stdDeviation="0.9"/></filter>
</defs>
<path d="M58.9,288.6 C59.6,287.9 60.6,287.7 62.5,287.7 L86.5,287.8 C89.8,288 91.4,290.3 91.3,292.9 C91.2,295.6 90,297.4 88,298.2 L84,298.5 C82.4,298.8 81.6,300.2 81.8,301.9 C82.1,303.6 82.8,305 84.5,305.6 L87.7,306.3 C89.2,306.8 89.4,308.6 88.4,309.5 C87,311 84,311.8 80,312 L62,312 C59.5,312 58,311 57.4,309 C56.8,306 56.8,301 57.3,298.5 C57.6,297 58,296 58.1,294.5 C58.2,291.5 58.3,289.5 58.9,288.6 Z" fill="#0c1fd6" filter="url(#b3)"/>
<path d="M59.8,289.4 C60.4,288.9 61.4,288.8 63,288.8 L86,288.9 C88.8,289.1 90.1,290.8 90,292.9 C89.9,295 89,296.4 87.5,297 L83.5,297.4 C81.5,297.8 80.5,299.8 80.7,302 C81,304.2 82,305.8 84,306.5 L86.8,307.2 C87.8,307.7 87.9,308.8 87.2,309.2 C86,310.2 83.5,310.8 80,311 L62.5,311 C60.2,311 59.2,310.3 58.7,308.6 C58.2,306 58.2,301.5 58.6,299 C58.9,297.3 59.2,296 59.2,294.5 C59.3,292 59.3,290.2 59.8,289.4 Z" fill="#2860f4" filter="url(#b6)"/>
<g filter="url(#b9)">
<path d="M60,290.5 C60.5,289.6 62,289.5 64,289.5 L84,289.7 C87.5,289.9 88.5,291.5 88.2,293 C87.8,294.5 86,295.5 83,295.8 L68,296.5 C66,297.3 65.5,299.5 65.3,303 C65,307 63,308.8 60.8,308.5 C59.2,307.8 59,304 59.2,300 C59.4,296 59.6,292.5 60,290.5 Z" fill="#4cc8f2"/>
<ellipse cx="68.5" cy="299.5" rx="4" ry="2.3" fill="#48b0f0"/>
<ellipse cx="73" cy="304.5" rx="6" ry="3.5" fill="#3a86f2"/>
<ellipse cx="83.8" cy="308.4" rx="2" ry="1.2" fill="#68c8f4"/>
</g>
<g filter="url(#b6)">
<path d="M60.6,291 C61,290.2 62.5,290.2 64,290.2 L73.5,290.4 C76,290.6 77,292 76.5,293.5 C76,295 74.5,296 72,296.2 L66.5,296.8 C65,297.5 64.8,300 64.6,303.5 C64.4,306.8 62.8,308 61,307.7 C59.9,307 59.7,303.5 59.9,300 C60.1,296.5 60.3,293 60.6,291 Z" fill="#86e060"/>
<ellipse cx="61.9" cy="303" rx="3.3" ry="5.2" fill="#86e060"/>
<ellipse cx="66.5" cy="293.1" rx="3.9" ry="1.4" fill="#f4ec34"/>
<ellipse cx="61.6" cy="302.8" rx="1.9" ry="3.4" fill="#f4ec34"/>
</g>
<g filter="url(#b3)">
<ellipse cx="66.7" cy="293.2" rx="2.6" ry="0.6" fill="#ec2a12"/>
<ellipse cx="61.5" cy="302.8" rx="1.15" ry="2.5" fill="#e81a10"/>
</g>
<path d="M141.3,288.7 C141.8,288.2 142.8,288.1 144.5,288.1 L168.5,288.1 C171.6,288.3 173,290.4 172.9,292.9 C172.8,295.3 171.8,297 169.8,297.6 L163,297.6 C161.2,297.9 160.3,299 160.3,300.5 C160.3,302.3 160.4,303.5 161.5,304.2 C163,305 167,305.4 169.2,306.5 C170.3,307.3 170.3,308.8 169.4,309.5 C168,310.8 164,311.6 158,312 L143,312 C141,312 140.2,311 140,309 C139.8,305 139.8,300 140.1,296 C140.3,293 140.5,290 141.3,288.7 Z" fill="#0c1fd6" filter="url(#b3)"/>
<path d="M142.2,289.5 C142.7,289.2 143.5,289.2 145,289.2 L168,289.2 C170.5,289.4 171.7,291 171.6,292.9 C171.5,294.8 170.8,296.1 169.3,296.5 L162.8,296.6 C160.4,297 159.2,298.6 159.2,300.5 C159.2,302.6 159.5,304.2 161,305.1 C162.8,306 166.5,306.3 168.3,307.2 C169,307.7 169,308.5 168.4,308.8 C167,309.9 163.5,310.6 158,310.9 L143.5,310.9 C141.8,310.9 141.2,310.2 141.1,308.8 C140.9,305 140.9,300 141.2,296 C141.4,293 141.6,290.5 142.2,289.5 Z" fill="#2457f2" filter="url(#b6)"/>
<g filter="url(#b9)">
<path d="M142.2,290.5 C142.7,289.9 144,289.8 146,289.8 L155,290 C157.5,290.3 158,294.5 156.5,296 C155,297 150,297.3 148,298 C146.8,299.3 147.2,303 147,306 C146.6,308.5 144.5,309 142.6,308.5 C141.5,307.5 141.4,303 141.6,299 C141.8,295.5 141.9,292.5 142.2,290.5 Z" fill="#4cc8f2"/>
<ellipse cx="167.4" cy="292.9" rx="3.5" ry="1.7" fill="#60d0f6"/>
<ellipse cx="157" cy="292.9" rx="2" ry="2.5" fill="#48b8f0"/>
</g>
<g filter="url(#b6)">
<ellipse cx="148" cy="293.2" rx="5" ry="3" fill="#92e070"/>
<ellipse cx="144.1" cy="302.6" rx="2.7" ry="4.2" fill="#8ce064"/>
<ellipse cx="146" cy="293.5" rx="2.2" ry="1.3" fill="#c8ec50"/>
<ellipse cx="144.1" cy="302.4" rx="1.8" ry="2.6" fill="#f4ec34"/>
</g>
<g filter="url(#b3)">
<ellipse cx="144.1" cy="302.3" rx="1.2" ry="1.6" fill="#e81a10"/>
</g>
<rect x="58.6" y="287.4" width="34.1" height="10.1" fill="none" stroke="#888" stroke-width="0.6"/>
<line x1="58.6" y1="297.5" x2="73.8" y2="297.5" stroke="#3a5a30" stroke-width="0.6"/>
<line x1="73.5" y1="287.4" x2="73.5" y2="297.8" stroke="#111" stroke-width="0.8"/>
<rect x="141.1" y="287.4" width="33.6" height="10.1" fill="none" stroke="#888" stroke-width="0.6"/>
<line x1="141.1" y1="297.5" x2="155.8" y2="297.5" stroke="#3a5a30" stroke-width="0.6"/>
<line x1="155.8" y1="287.4" x2="155.8" y2="297.8" stroke="#111" stroke-width="0.8"/>
<rect x="165.8" y="308.3" width="0.6" height="0.6" fill="#bbb"/>
<rect x="167.9" y="309.3" width="0.6" height="0.6" fill="#bbb"/>
<rect x="172.0" y="300.1" width="0.6" height="0.6" fill="#bbb"/>
<rect x="162.2" y="313.2" width="0.6" height="0.6" fill="#bbb"/>
<rect x="166.1" y="303.0" width="0.6" height="0.6" fill="#bbb"/>
<rect x="177.9" y="307.0" width="0.6" height="0.6" fill="#bbb"/>
<rect x="175.4" y="307.1" width="0.6" height="0.6" fill="#bbb"/>
<rect x="172.2" y="301.6" width="0.6" height="0.6" fill="#bbb"/>
<rect x="172.2" y="313.8" width="0.6" height="0.6" fill="#bbb"/>
<rect x="170.4" y="311.6" width="0.6" height="0.6" fill="#bbb"/>
<rect x="172.7" y="300.1" width="0.6" height="0.6" fill="#bbb"/>
<rect x="174.1" y="309.0" width="0.6" height="0.6" fill="#bbb"/>
<rect x="166.8" y="299.5" width="0.6" height="0.6" fill="#bbb"/>
<rect x="175.8" y="307.0" width="0.6" height="0.6" fill="#bbb"/>
<rect x="173.5" y="313.9" width="0.6" height="0.6" fill="#bbb"/>
<rect x="173.4" y="314.7" width="0.6" height="0.6" fill="#bbb"/>
<rect x="168.3" y="312.6" width="0.6" height="0.6" fill="#bbb"/>
<rect x="169.1" y="314.9" width="0.6" height="0.6" fill="#bbb"/>
<rect x="176.1" y="300.7" width="0.6" height="0.6" fill="#bbb"/>
<rect x="164.2" y="302.7" width="0.6" height="0.6" fill="#bbb"/>
<rect x="177.4" y="306.4" width="0.6" height="0.6" fill="#bbb"/>
<rect x="172.0" y="304.1" width="0.6" height="0.6" fill="#bbb"/>
<rect x="170.1" y="305.6" width="0.6" height="0.6" fill="#bbb"/>
<rect x="167.6" y="308.9" width="0.6" height="0.6" fill="#bbb"/>
<rect x="171.3" y="314.4" width="0.6" height="0.6" fill="#bbb"/>
<rect x="172.9" y="314.8" width="0.6" height="0.6" fill="#bbb"/>
<rect x="175.7" y="315.8" width="0.6" height="0.6" fill="#bbb"/>
<rect x="172.7" y="301.8" width="0.6" height="0.6" fill="#bbb"/>
<rect x="175.8" y="315.4" width="0.6" height="0.6" fill="#bbb"/>
<rect x="176.5" y="308.7" width="0.6" height="0.6" fill="#bbb"/>
<rect x="93.1" y="308.7" width="0.6" height="0.6" fill="#bbb"/>
<rect x="94.3" y="311.6" width="0.6" height="0.6" fill="#bbb"/>
<rect x="88.8" y="307.5" width="0.6" height="0.6" fill="#bbb"/>
<rect x="94.5" y="314.9" width="0.6" height="0.6" fill="#bbb"/>
<rect x="86.9" y="313.4" width="0.6" height="0.6" fill="#bbb"/>
<rect x="90.1" y="308.2" width="0.6" height="0.6" fill="#bbb"/>
<rect x="88.9" y="313.2" width="0.6" height="0.6" fill="#bbb"/>
<rect x="94.7" y="307.4" width="0.6" height="0.6" fill="#bbb"/>
<line x1="52.8" y1="326.9" x2="52.8" y2="328.09999999999997" stroke="#555" stroke-width="0.6"/>
<line x1="54.5" y1="326.9" x2="54.5" y2="328.09999999999997" stroke="#555" stroke-width="0.6"/>
<line x1="55.9" y1="326.9" x2="55.9" y2="328.09999999999997" stroke="#555" stroke-width="0.6"/>
<line x1="57.5" y1="326.9" x2="57.5" y2="328.09999999999997" stroke="#555" stroke-width="0.6"/>
<line x1="59.3" y1="326.9" x2="59.3" y2="328.09999999999997" stroke="#555" stroke-width="0.6"/>
<line x1="61.5" y1="326.9" x2="61.5" y2="328.09999999999997" stroke="#555" stroke-width="0.6"/>
<line x1="63.8" y1="326.9" x2="63.8" y2="328.09999999999997" stroke="#555" stroke-width="0.6"/>
<line x1="40.099999999999994" y1="311.7" x2="41.3" y2="311.7" stroke="#333" stroke-width="0.8"/>
<line x1="135.2" y1="327.9" x2="135.2" y2="329.09999999999997" stroke="#555" stroke-width="0.6"/>
<line x1="136.9" y1="327.9" x2="136.9" y2="329.09999999999997" stroke="#555" stroke-width="0.6"/>
<line x1="138.3" y1="327.9" x2="138.3" y2="329.09999999999997" stroke="#555" stroke-width="0.6"/>
<line x1="139.9" y1="327.9" x2="139.9" y2="329.09999999999997" stroke="#555" stroke-width="0.6"/>
<line x1="141.7" y1="327.9" x2="141.7" y2="329.09999999999997" stroke="#555" stroke-width="0.6"/>
<line x1="143.9" y1="327.9" x2="143.9" y2="329.09999999999997" stroke="#555" stroke-width="0.6"/>
<line x1="146.2" y1="327.9" x2="146.2" y2="329.09999999999997" stroke="#555" stroke-width="0.6"/>
<line x1="122.5" y1="312" x2="123.7" y2="312" stroke="#333" stroke-width="0.8"/>
<rect x="0.5" y="0.5" width="519" height="355" fill="none" stroke="#000" stroke-width="1"/>
</svg></body></html>
